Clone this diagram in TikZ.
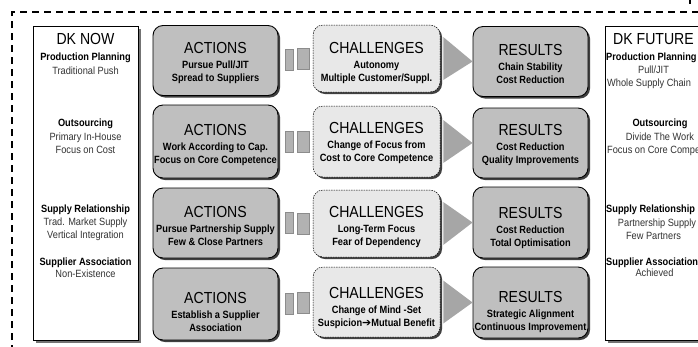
\documentclass[tikz,border=0pt]{standalone}
\usepackage{fontspec}
\setmainfont{Liberation Sans}[FakeStretch=0.88]
\newfontfamily\arrowfont{DejaVu Sans}
\usepackage{tikz}
\usetikzlibrary{calc,shadows,positioning}
\newcommand\boxtext[4][17pt]{{\mdseries\fontsize{16}{17}\selectfont\rule{0pt}{#1}#2}\\[2pt] #3\\ #4\rule[-3pt]{0pt}{3pt}}
\tikzset{
 frame/.style={line width=1.3pt, dash pattern=on 7pt off 5pt},
 dkbox/.style={draw, line width=.9pt, fill=white, minimum width=105pt, minimum height=314pt, inner sep=0pt, drop shadow={shadow xshift=3pt, shadow yshift=-3pt, fill=black!55, opacity=1}},
 act/.style={draw, line width=.9pt, rounded corners=10pt, fill=black!25, minimum width=125pt, minimum height=70pt, inner sep=0pt, align=center, font=\bfseries\fontsize{10.5}{13}\selectfont, drop shadow={shadow xshift=2pt, shadow yshift=-2pt, fill=black!75, opacity=1}},
 chal/.style={act, dash pattern=on 1.5pt off 1pt, line width=.5pt, fill=black!9, minimum width=127pt},
 res/.style={act, minimum width=115pt},
 bar/.style={fill=black!30, draw=black!45, line width=.4pt, minimum height=21pt, inner sep=0pt},
 tri/.style={fill=black!35},
 dkhead/.style={inner sep=0pt, text height=11.5pt, text depth=0pt, font=\fontsize{16}{16}\selectfont},
 cat/.style={inner sep=0pt, text height=7.6pt, text depth=0pt, font=\bfseries\fontsize{10.5}{13}\selectfont},
 item/.style={cat, font=\fontsize{10.5}{13}\selectfont, text=black!80}
}
\begin{document}
\begin{tikzpicture}[x=1pt,y=-1pt]
\useasboundingbox (0,0) rectangle (698,346);
\draw[frame] (12,352) |- (704,12);
\draw[frame] (690,-3) -- (690,6);
\node[dkbox] (now) at (85.5,183) {};
\node[dkbox] (fut) at (657.5,183) {};
\node[dkhead] (nowt) at (85.5,39) {DK NOW};
\node[cat] (n1) at (85.5,57) {Production Planning};
\node[item] (n1a) at (85.5,71) {Traditional Push};
\node[cat] (n2) at (85.5,123) {Outsourcing};
\node[item] (n2a) at (85.5,137) {Primary In-House};
\node[item] (n2b) at (85.5,150) {Focus on Cost};
\node[cat] (n3) at (85.5,209) {Supply Relationship};
\node[item] (n3a) at (85.5,222) {Trad. Market Supply};
\node[item] (n3b) at (85.5,235) {Vertical Integration};
\node[cat] (n4) at (85.5,262) {Supplier Association};
\node[item] (n4a) at (85.5,274) {Non-Existence};
\node[dkhead] (futt) at (653.5,39) {DK FUTURE};
\node[cat, anchor=west] (f1) at (606,57) {Production Planning};
\node[item] (f1a) at (653.5,70) {Pull/JIT};
\node[item, anchor=west] (f1b) at (607,83) {Whole Supply Chain};
\node[cat] (f2) at (660,123) {Outsourcing};
\node[item] (f2a) at (660,137) {Divide The Work};
\node[item, anchor=west] (f2b) at (607,150) {Focus on Core Competence};
\node[cat, anchor=west] (f3) at (606,209) {Supply Relationship};
\node[item] (f3a) at (657,223) {Partnership Supply};
\node[item] (f3b) at (653.5,236) {Few Partners};
\node[cat, anchor=west] (f4) at (606,262) {Supplier Association};
\node[item] (f4a) at (654.5,273) {Achieved};
\node[act] (a1) at (215.5,60.5) {\boxtext[17.7pt]{ACTIONS}{Pursue Pull/JIT}{Spread to Suppliers}};
\node[act, minimum height=73pt] (a2) at (215.5,141.5) {\boxtext[19.7pt]{ACTIONS}{Work According to Cap.}{Focus on Core Competence}};
\node[act] (a3) at (215.5,223) {\boxtext[20.7pt]{ACTIONS}{Pursue Partnership Supply}{Few \& Close Partners}};
\node[act, minimum height=72pt] (a4) at (215.5,304) {\boxtext[30.7pt]{ACTIONS}{Establish a Supplier}{Association}};
\node[chal, minimum height=67pt] (c1) at (376.5,58.5) {\boxtext[21.7pt]{CHALLENGES}{Autonomy}{Multiple Customer/Suppl.}};
\node[chal, minimum height=71pt] (c2) at (376.5,141.5) {\boxtext[15.7pt]{CHALLENGES}{Change of Focus from}{Cost to Core Competence}};
\node[chal, minimum height=67pt] (c3) at (376.5,223.5) {\boxtext[19.7pt]{CHALLENGES}{Long-Term Focus}{Fear of Dependency}};
\node[chal] (c4) at (376.5,302) {\boxtext[24.7pt]{CHALLENGES}{Change of Mind -Set}{Suspicion{\arrowfont\fontsize{11}{11}\selectfont ➔}Mutual Benefit}};
\node[res] (r1) at (530.5,61.5) {\boxtext[19.7pt]{RESULTS}{Chain Stability}{Cost Reduction}};
\node[res] (r2) at (530.5,143) {\boxtext[16.7pt]{RESULTS}{Cost Reduction}{Quality Improvements}};
\node[res, minimum height=71pt] (r3) at (530.5,222.5) {\boxtext[23.7pt]{RESULTS}{Cost Reduction}{Total Optimisation}};
\node[res, minimum height=71pt] (r4) at (530.5,302.5) {\boxtext[31.7pt]{RESULTS}{Strategic Alignment}{Continuous Improvement}};
\path (a1.east) -- (c1.west) node[bar, pos=.31, minimum width=8pt] (p1) {} node[bar, pos=.71, minimum width=12pt] (q1) {};
\path (a2.east) -- (c2.west) node[bar, pos=.31, minimum width=8pt] (p2) {} node[bar, pos=.71, minimum width=12pt] (q2) {};
\path (a3.east) -- (c3.west) node[bar, pos=.31, minimum width=8pt] (p3) {} node[bar, pos=.71, minimum width=12pt] (q3) {};
\path (a4.east) -- (c4.west) node[bar, pos=.31, minimum width=8pt] (p4) {} node[bar, pos=.71, minimum width=12pt] (q4) {};
\fill[tri] ($(c1.east)+(3,-21.5)$) -- ($(c1.east)+(3,21.5)$) -- (r1.west) -- cycle;
\fill[tri] ($(c2.east)+(3,-21.5)$) -- ($(c2.east)+(3,21.5)$) -- (r2.west) -- cycle;
\fill[tri] ($(c3.east)+(3,-21.5)$) -- ($(c3.east)+(3,21.5)$) -- (r3.west) -- cycle;
\fill[tri] ($(c4.east)+(3,-21.5)$) -- ($(c4.east)+(3,21.5)$) -- (r4.west) -- cycle;
\end{tikzpicture}
\end{document}
